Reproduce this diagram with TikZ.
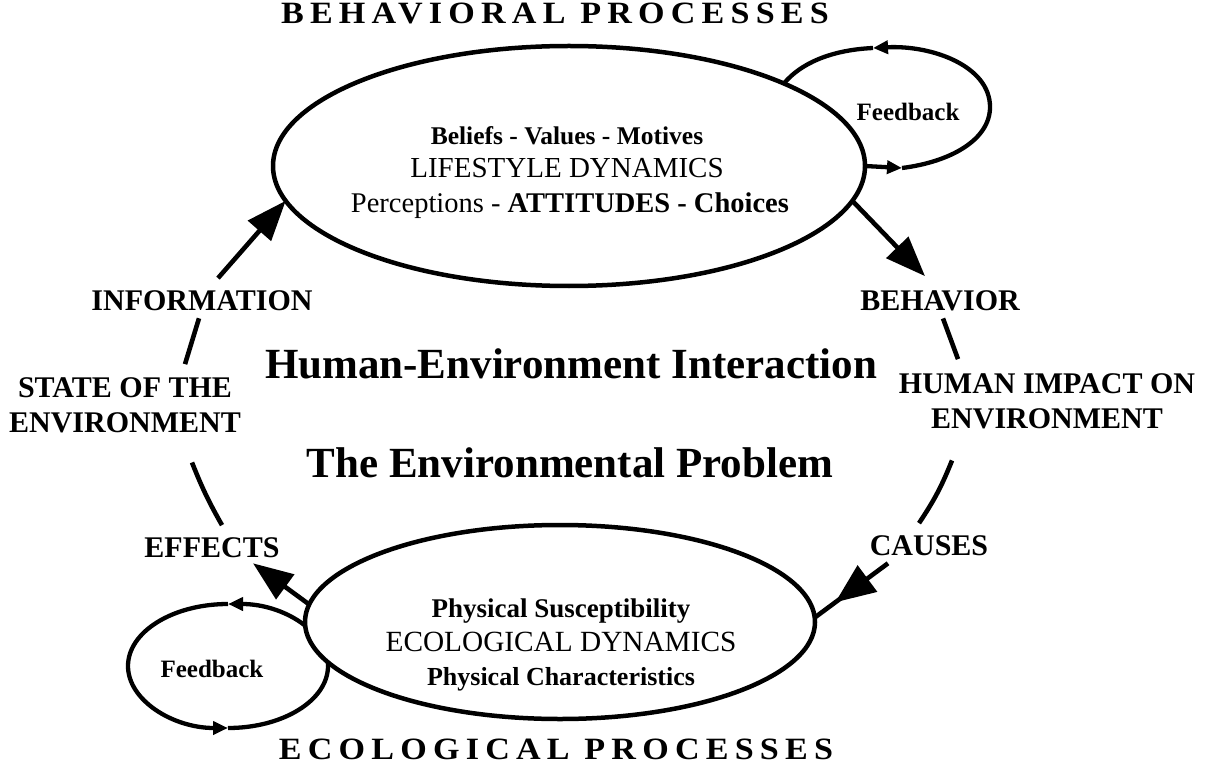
\documentclass[tikz,border=0pt]{standalone}
\usepackage{fontspec}
\setmainfont{Liberation Serif}
\usetikzlibrary{arrows.meta,shapes.geometric,decorations.markings}

\begin{document}
\begin{tikzpicture}[x=1pt,y=-1pt,
  every node/.style={inner sep=0pt, outer sep=0pt},
  stage/.style={ellipse, draw, line width=4.5pt, fill=white},
  lbl/.style={font=\fontsize{30}{35}\selectfont\bfseries, align=center, anchor=base},
  inner/.style={anchor=base},
  heading/.style={font=\fontsize{31}{36}\selectfont\bfseries\addfontfeature{FakeStretch=1.1,LetterSpace=20}, anchor=base},
  theme/.style={font=\fontsize{43}{48}\selectfont\bfseries, anchor=base},
  fbtext/.style={font=\fontsize{25}{30}\selectfont\bfseries},
  link/.style={line width=4.6pt},
  looplink/.style={line width=4.3pt},
  bighead/.style={-{Triangle[length=40pt,width=30pt]}},
  smallhead/.style={-{Triangle[length=15pt,width=13pt]}},
  midhead/.style={postaction={decorate},
    decoration={markings, mark=at position #1 with {\arrow{Triangle[length=40pt,width=32pt]}}}}
]
\useasboundingbox (0,0) rectangle (1212,767);

% headings
\node[heading] (behproc) at (555,24) {BEHAVIORAL PROCESSES};
\node[heading] (ecoproc) at (556,759) {ECOLOGICAL PROCESSES};

% feedback loop around the ecological stage (drawn first, the stage covers its inner part)
\coordinate (fe) at (328,666);
\coordinate (fn) at (228,604);
\coordinate (fw) at (128,666);
\coordinate (fs) at (228,728);
\draw[looplink, smallhead] (fe) .. controls (328,631.8) and (283.2,604) .. (fn);
\draw[looplink, smallhead] (fn) .. controls (172.8,604) and (128,631.8) .. (fw)
   .. controls (128,700.2) and (172.8,728) .. (fs);
\draw[looplink] (fs) .. controls (283.2,728) and (328,700.2) .. (fe);
\node[fbtext] (fbeco) at (212,669) {Feedback};

% the two stages
\node[stage, minimum width=592pt, minimum height=240pt] (lifestyle) at (569,166) {};
\node[stage, minimum width=510pt, minimum height=194pt] (ecology) at (560,622) {};

% text of the behavioural stage
\node[inner, font=\fontsize{25.5}{30}\selectfont\bfseries] (b1) at (567,145) {Beliefs - Values - Motives};
\node[inner, font=\fontsize{29}{33}\selectfont] (b2) at (567,178) {LIFESTYLE DYNAMICS};
\node[inner, font=\fontsize{28.5}{32}\selectfont] (b3) at (570,213) {Perceptions - \textbf{ATTITUDES - Choices}};

% text of the ecological stage
\node[inner, font=\fontsize{27}{30}\selectfont\bfseries] (e1) at (561,617) {Physical Susceptibility};
\node[inner, font=\fontsize{29.3}{33}\selectfont] (e2) at (561,651) {ECOLOGICAL DYNAMICS};
\node[inner, font=\fontsize{26}{30}\selectfont\bfseries] (e3) at (561,685) {Physical Characteristics};

% central themes
\node[theme] (hei) at (571,378) {Human-Environment Interaction};
\node[theme] (tep) at (570,477) {The Environmental Problem};

% labels of the cycle
\node[lbl] (behavior) at (940,310) {BEHAVIOR};
\node[lbl] (impact) at (1047,428) {HUMAN IMPACT ON\\ENVIRONMENT};
\node[lbl] (causes) at (929,555) {CAUSES};
\node[lbl] (effects) at (212,557) {EFFECTS};
\node[lbl] (state) at (125,432) {STATE OF THE\\ENVIRONMENT};
\node[lbl] (information) at (202,310) {INFORMATION};

% feedback loop of the behavioural stage
\coordinate (tb) at (902,168);
\coordinate (tt) at (873,48);
\draw[looplink, smallhead] (lifestyle.east) -- (tb);
\draw[looplink, smallhead] (tb) .. controls (950,162) and (990,140) .. (990,107)
   .. controls (990,66) and (932,45) .. (tt);
\draw[looplink] (tt) .. controls (830,50) and (800,64) .. (lifestyle.21);
\node[fbtext] (fbbeh) at (908,112) {Feedback};

% the cycle
\draw[link, bighead] (lifestyle.-7.1) -- ([xshift=-15pt,yshift=14pt]behavior.north);
\draw[link] ([xshift=3pt,yshift=-8pt]behavior.south) -- ([xshift=-89pt,yshift=14pt]impact.north);
\draw[link] ([xshift=-95pt,yshift=-32pt]impact.south) to[bend left=6] ([xshift=-10pt,yshift=12pt]causes.north);
\draw[link, midhead=0.72] ([xshift=-41pt,yshift=-8pt]causes.south) -- (ecology.1);
\draw[link, bighead] (ecology.176.6) -- ([xshift=41pt,yshift=-6pt]effects.south);
\draw[link] ([xshift=10pt,yshift=12pt]effects.north) to[bend left=4] ([xshift=67pt,yshift=-30pt]state.south);
\draw[link] ([xshift=60pt,yshift=13pt]state.north) -- ([xshift=-3pt,yshift=-8pt]information.south);
\draw[link, bighead] ([xshift=16pt,yshift=12pt]information.north) -- (lifestyle.187.6);
\end{tikzpicture}
\end{document}
